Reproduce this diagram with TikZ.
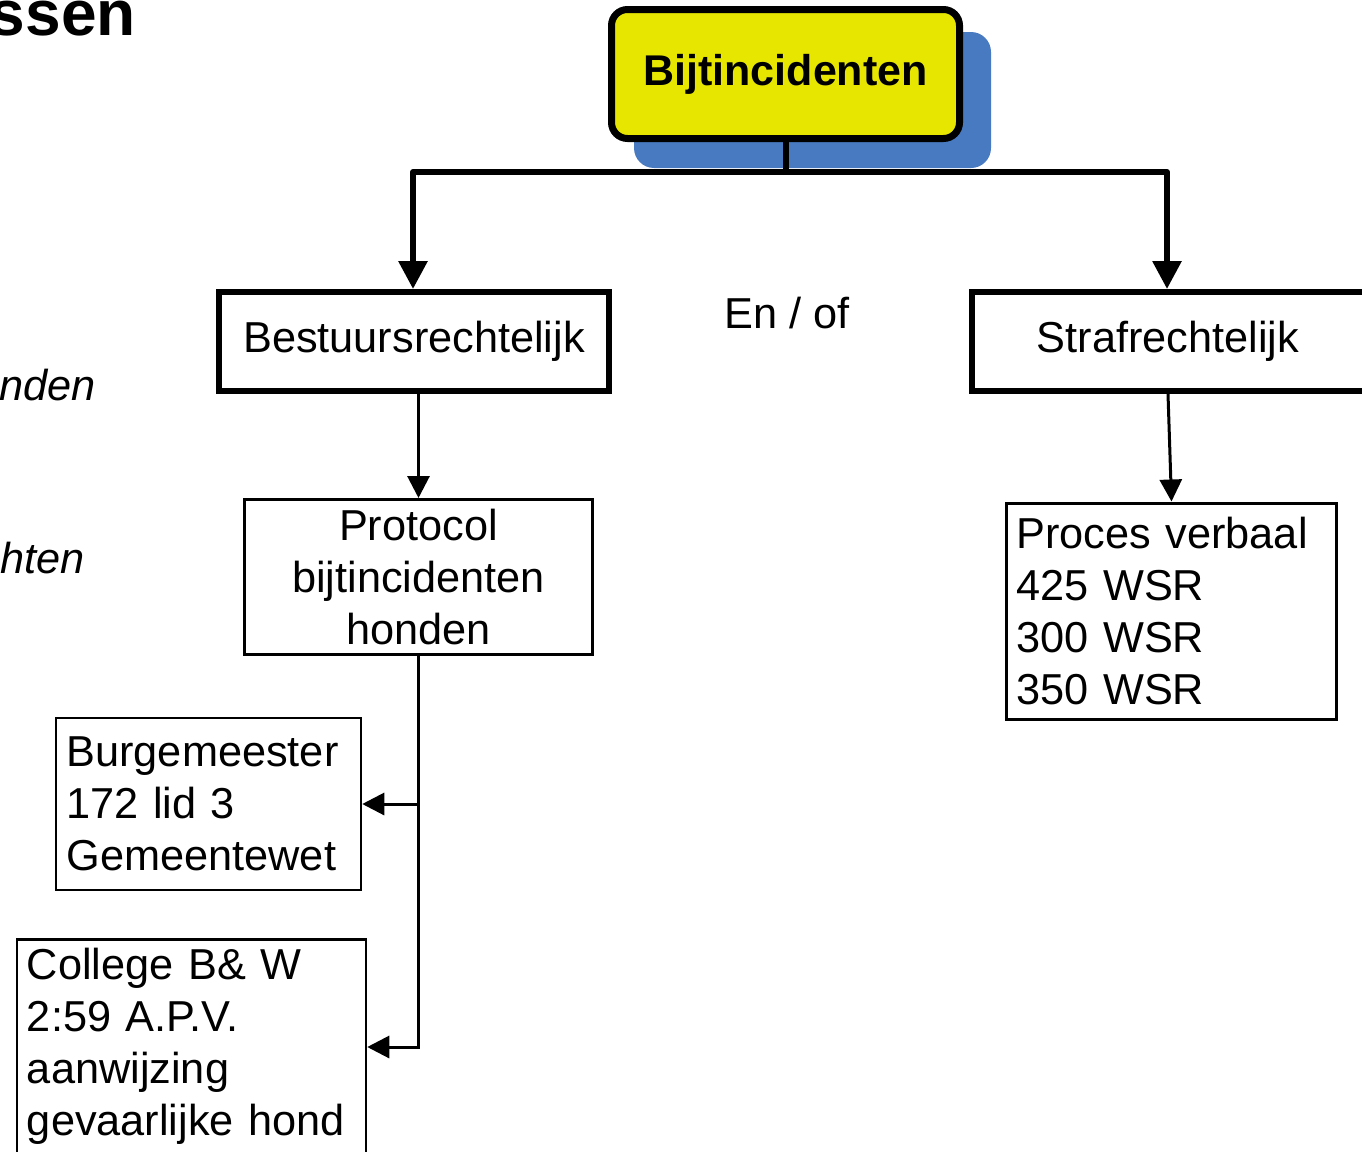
\documentclass[tikz,border=0pt]{standalone}
\usepackage{fontspec}
\setmainfont{Liberation Sans}
\usetikzlibrary{arrows.meta}
\definecolor{yel}{RGB}{230,230,0}
\definecolor{blu}{RGB}{72,122,193}
\begin{document}
\begin{tikzpicture}[x=1pt,y=-1pt,
  txt/.style={font=\fontsize{43.3}{52}\selectfont},
  thickbox/.style={draw, line width=6pt, fill=white, inner sep=0pt, txt},
  thinbox/.style={draw, line width=2.5pt, inner sep=0pt, txt},
  bigline/.style={line width=6pt, line join=round},
  bigarrow/.style={line width=6pt, line join=round, -{Triangle[length=28pt,width=28pt]}},
  smallarrow/.style={line width=3pt, -{Triangle[length=22pt,width=22pt]}},
]
\useasboundingbox (0,0) rectangle (1362,1151);
\clip (0,0) rectangle (1362,1151);
% title fragments
\node[font=\bfseries\fontsize{64}{70}\selectfont, anchor=base east, inner sep=0pt] (title) at (136,35) {ssen};
\node[font={\fontsize{43.3}{52}\selectfont\itshape}, anchor=base east, inner sep=0pt] (t1) at (96,400) {nden};
\node[font={\fontsize{43.3}{52}\selectfont\itshape}, anchor=base east, inner sep=0pt] (t2) at (85,573) {hten};
% top node with shadow
\node[fill=blu, rounded corners=20pt, minimum width=357pt, minimum height=136pt, inner sep=0pt] (shadow) at (812.5,100) {};
\node[draw, line width=7pt, fill=yel, rounded corners=16pt, minimum width=348pt, minimum height=129pt, inner sep=0pt, font=\bfseries\fontsize{43}{52}\selectfont] (top) at (785.5,74) {Bijtincidenten};
% level 2
\node[thickbox, minimum width=390pt, minimum height=99pt] (bestuur) at (414,341.5) {Bestuursrechtelijk};
\node[thickbox, minimum width=393pt, minimum height=99pt] (straf) at (1168,341.5) {Strafrechtelijk};
\node[txt, anchor=base, inner sep=0pt] (enof) at (787,328) {En / of};
% level 3
\node[thinbox, line width=3pt, minimum width=348pt, minimum height=155pt, align=center] (protocol) at (418.5,577) {Protocol\\bijtincidenten\\honden};
\node[thinbox, line width=3pt, minimum width=330pt, minimum height=216pt, text width=310pt, inner xsep=10pt, align=left] (proces) at (1171.5,611) {Proces verbaal\\425 WSR\\300 WSR\\350 WSR};
\node[thinbox, minimum width=305pt, minimum height=172pt, text width=284pt, inner xsep=10.5pt, align=left] (burg) at (208.5,804) {Burgemeester\\172 lid 3\\Gemeentewet};
\node[thinbox, anchor=north, minimum width=349pt, text width=329pt, inner xsep=10pt, inner ysep=9pt, text depth=230pt, align=left] (college) at (191.5,938) {College B\& W\\2:59 A.P.V.\\aanwijzing\\gevaarlijke hond};
% connectors
\coordinate (j) at ([yshift=-30pt]top.south);
\draw[bigline] (top.south) -- (j);
\draw[bigarrow] (j) -| ([xshift=-1pt]bestuur.north);
\draw[bigarrow] (j) -| ([xshift=-1pt]straf.north);
\draw[smallarrow] (bestuur.south -| protocol.north) -- (protocol.north);
\draw[smallarrow] (straf.south) -- (proces.north);
\coordinate (cc) at ([yshift=-109pt]college.north east);
\draw[smallarrow] (protocol.south) |- (cc);
\draw[smallarrow] (protocol.south |- burg.east) -- (burg.east);
\end{tikzpicture}
\end{document}
